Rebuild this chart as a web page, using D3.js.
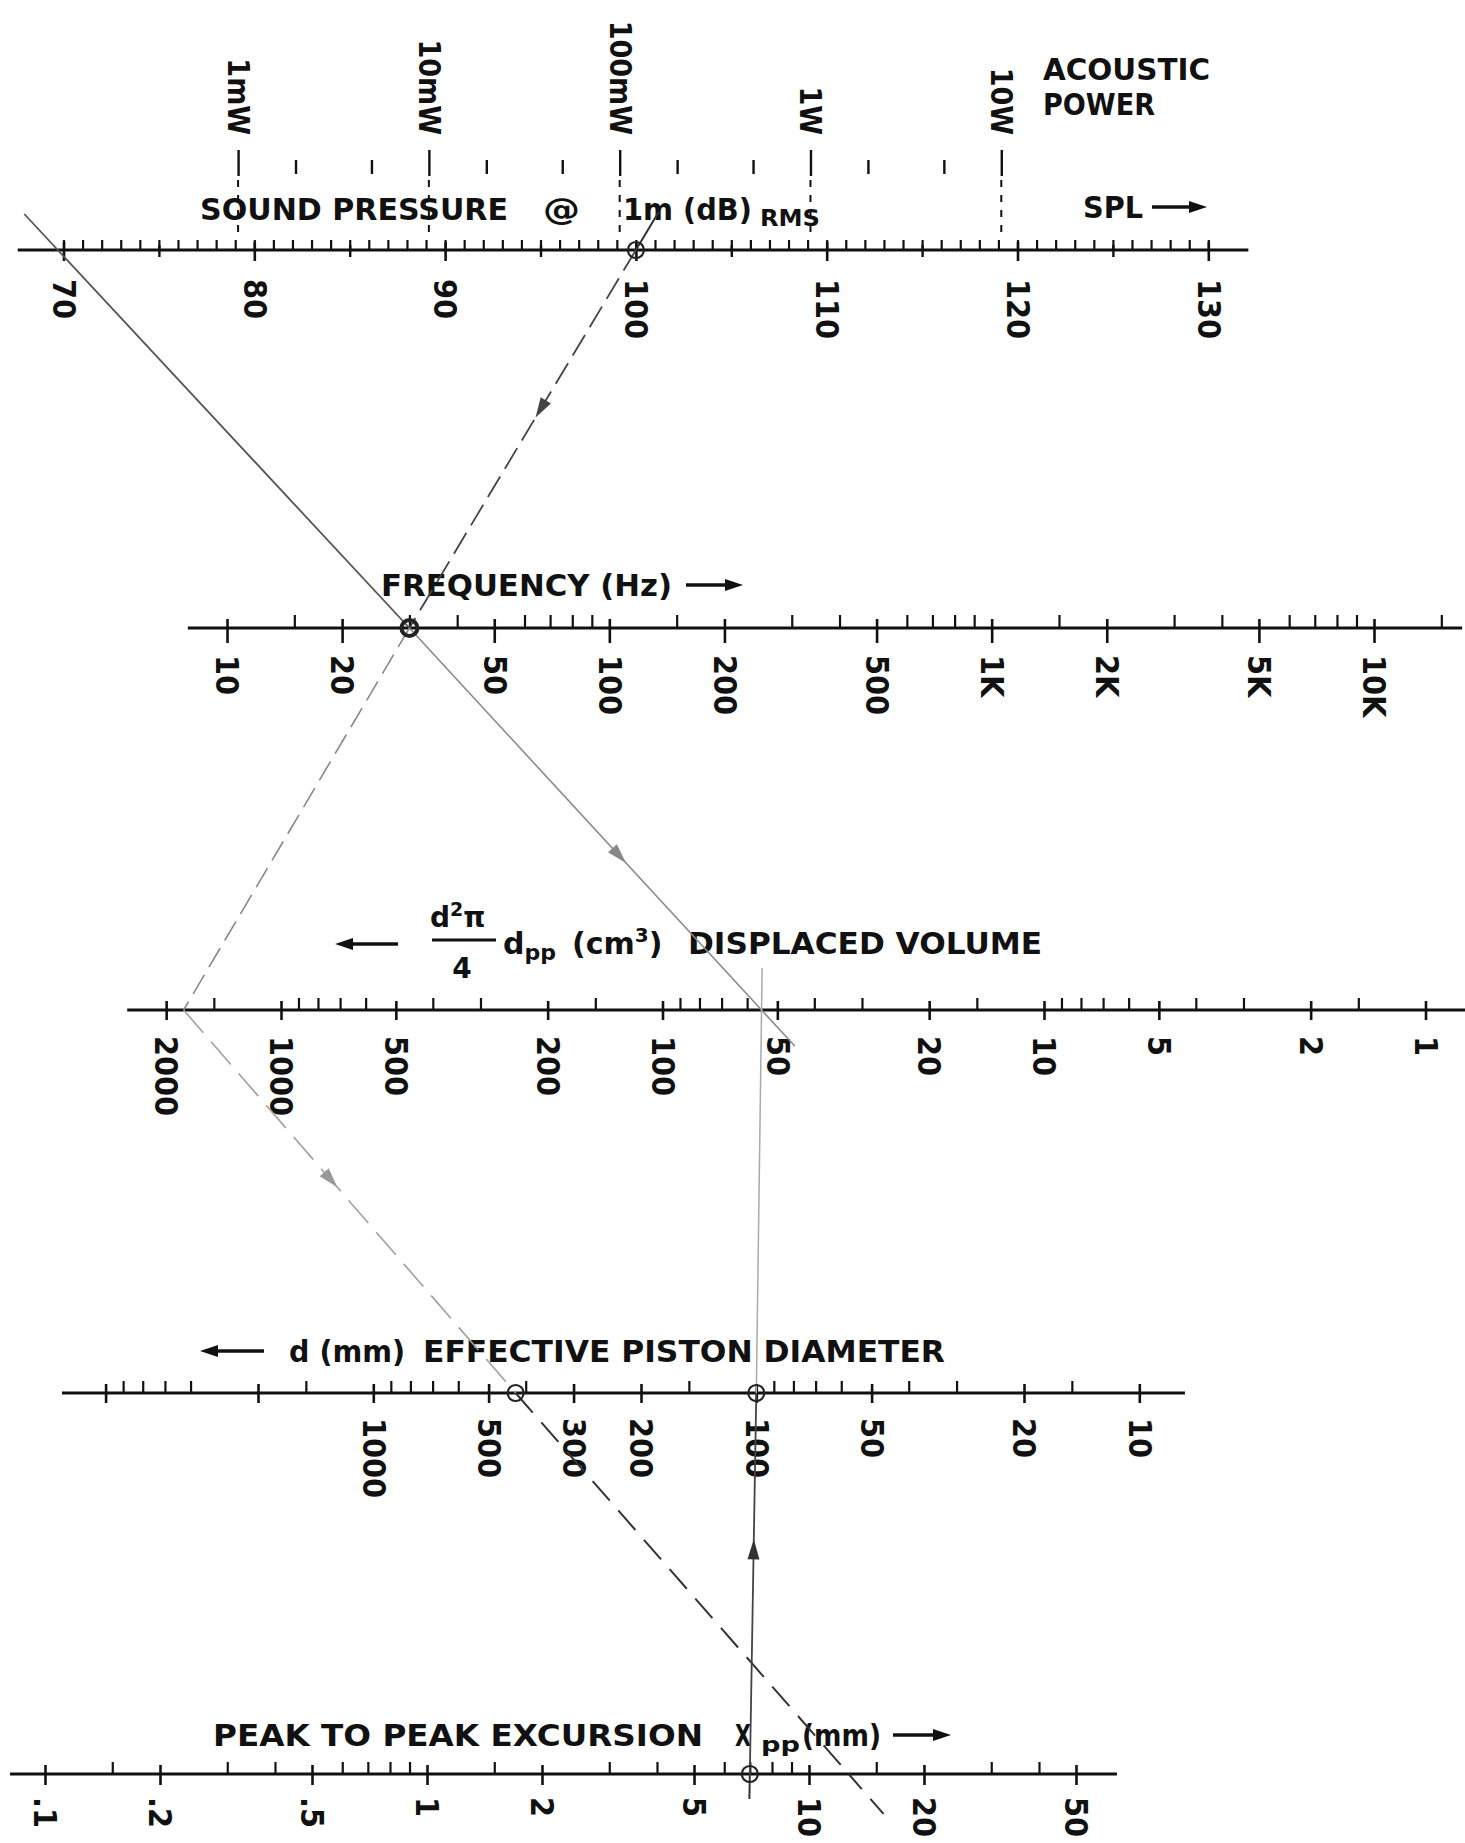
<!DOCTYPE html>
<html>
<head>
<meta charset="utf-8">
<script src="https://cdn.jsdelivr.net/npm/d3@7"></script>
<style>
body{margin:0;background:#fff}
text{font-family:"DejaVu Sans",sans-serif;font-weight:bold;fill:#111}
</style>
</head>
<body>
<svg></svg>
<script>
var screen = {width:1465,height:1843}

// sound pressure @ 1m, dB
var splMajor = [70,80,90,100,110,120,130]
var splLabels = ["70","80","90","100","110","120","130"]
var splMedium = [75,85,95,105,115,125]
var splMinor = d3.range(70,131)

// acoustic power (W), sits on the SPL scale
var powerMajor = [0.001,0.01,0.1,1,10]
var powerLabels = ["1mW","10mW","100mW","1W","10W"]
var powerMinor = [0.002,0.005,0.02,0.05,0.2,0.5,2,5]
var splAt1W = 109.15

// frequency (Hz)
var freqMajor = [10,20,50,100,200,500,1000,2000,5000,10000]
var freqLabels = ["10","20","50","100","200","500","1K","2K","5K","10K"]
var freqMinor = [15,30,40,60,70,80,90,150,300,400,600,700,800,900,1500,3000,4000,6000,7000,8000,9000,15000]

// displaced volume (cm3)
var volMajor = [2000,1000,500,200,100,50,20,10,5,2,1]
var volLabels = ["2000","1000","500","200","100","50","20","10","5","2","1"]
var volMinor = [1500,900,800,700,600,400,300,150,90,80,70,60,40,30,15,9,8,7,6,4,3,1.5]

// effective piston diameter (mm)
var diamMajor = [5000,2000,1000,500,300,200,100,50,20,10]
var diamLabels = ["","","1000","500","300","200","100","50","20","10"]
var diamMinor = [4500,4000,3500,3000,1500,900,800,700,600,400,150,90,80,70,60,40,30,15]

// peak to peak excursion (mm)
var excMajor = [0.1,0.2,0.5,1,2,5,10,20,50]
var excLabels = [".1",".2",".5","1","2","5","10","20","50"]
var excMinor = [0.15,0.3,0.4,0.6,0.7,0.8,0.9,1.5,3,4,6,7,8,9,15,30,40]

// worked examples drawn across the chart
var lineAAxes = ["spl","freq","vol"]
var lineAValues = [69.7,30,55]
var lineBAxes = ["spl","freq","vol","diam","exc"]
var lineBValues = [100,30,1800,425,12.7]
var lineCAxes = ["exc","diam","vol"]
var lineCValues = [7,100,55]
var markerAxes = ["spl","freq","diam","diam","exc"]
var markerValues = [100,30,425,100,7]

var svg = d3.select("svg")
    .attr("width",screen.width)
    .attr("height",screen.height)

var splScale = d3.scaleLinear().domain([70,130]).range([63.5,1208.3])
var powerScale = d3.scaleLog().domain([0.001,10])
    .range([splScale(splAt1W-30),splScale(splAt1W+10)])
var freqScale = d3.scaleLog().domain([10,10000]).range([227,1374])
var volScale = d3.scaleLog().domain([1000,1]).range([281,1425.5])
var diamScale = d3.scaleLog().domain([1000,10]).range([373.3,1139.3])
var excScale = d3.scaleLog().domain([0.1,10]).range([45,809])

var axisY = {spl:250,freq:628,vol:1010,diam:1393,exc:1774}
var scales = {spl:splScale,freq:freqScale,vol:volScale,diam:diamScale,exc:excScale}

//one nomograph scale: long line, small ticks above, crossing ticks + rotated labels
var drawScale = function(id,scale,ext,majors,labels,minors,opt)
{
    var g = svg.append("g").attr("id",id)
        .attr("transform","translate(0,"+axisY[id]+")")

    g.append("line")
        .attr("x1",scale(ext[0])).attr("x2",scale(ext[1]))
        .attr("stroke","#111").attr("stroke-width",3)

    var minorG = g.append("g")
        .call(d3.axisTop(scale).tickValues(minors).tickSize(opt.minor).tickFormat(""))
    minorG.select(".domain").remove()
    minorG.selectAll(".tick line").attr("stroke","#111").attr("stroke-width",2.2)

    if (opt.medium)
    {
        var medG = g.append("g")
            .call(d3.axisBottom(scale).tickValues(opt.medium).tickSize(7).tickFormat(""))
        medG.select(".domain").remove()
        medG.selectAll(".tick line").attr("y1",-5).attr("stroke","#111").attr("stroke-width",2.4)
    }

    var majorG = g.append("g")
        .call(d3.axisBottom(scale).tickValues(majors).tickSize(opt.down)
            .tickFormat(function(d){ return labels[majors.indexOf(d)] }))
    majorG.select(".domain").remove()
    majorG.attr("font-size",32).attr("font-family",null)
    majorG.selectAll(".tick line").attr("y1",-opt.up).attr("stroke","#111").attr("stroke-width",2.6)
    majorG.selectAll(".tick text")
        .attr("y",0).attr("dy","0.35em")
        .attr("text-anchor","start")
        .attr("transform","translate(0,"+opt.gap+") rotate(90) scale(0.9,1)")
}

drawScale("spl",splScale,[67.6,132.1],splMajor,splLabels,splMinor,{minor:10,up:8,down:11,gap:29,medium:splMedium})
drawScale("freq",freqScale,[7.9,17000],freqMajor,freqLabels,freqMinor,{minor:13,up:9,down:15,gap:27})
drawScale("vol",volScale,[2530,0.78],volMajor,volLabels,volMinor,{minor:12,up:9,down:10,gap:26})
drawScale("diam",diamScale,[6500,7.6],diamMajor,diamLabels,diamMinor,{minor:12,up:9,down:10,gap:25})
drawScale("exc",excScale,[0.081,64],excMajor,excLabels,excMinor,{minor:12,up:9,down:11,gap:23})

//acoustic power ticks above the SPL line
var powG = svg.append("g").attr("id","power").attr("transform","translate(0,176)")
var powMinorG = powG.append("g")
    .call(d3.axisTop(powerScale).tickValues(powerMinor).tickSize(14).tickFormat(""))
powMinorG.select(".domain").remove()
powMinorG.attr("transform","translate(0,-2)")
powMinorG.selectAll(".tick line").attr("stroke","#111").attr("stroke-width",2.4)
var powMajorG = powG.append("g")
    .call(d3.axisTop(powerScale).tickValues(powerMajor).tickSize(26)
        .tickFormat(function(d){ return powerLabels[powerMajor.indexOf(d)] }))
powMajorG.select(".domain").remove()
powMajorG.attr("font-size",30).attr("font-family",null)
powMajorG.selectAll(".tick line").attr("stroke","#111").attr("stroke-width",2.4)
powMajorG.selectAll(".tick text")
    .attr("y",0).attr("dy","0.35em")
    .attr("text-anchor","end")
    .attr("transform","translate(0,-41) rotate(90) scale(0.9,1)")
powG.selectAll(".dash")
    .data(powerMajor)
    .enter()
    .append("line")
    .attr("class","dash")
    .attr("x1",function(d){ return powerScale(d) })
    .attr("x2",function(d){ return powerScale(d) })
    .attr("y1",4).attr("y2",56)
    .attr("stroke","#111").attr("stroke-width",2)
    .attr("stroke-dasharray","7,8")

//---------- titles ----------
var title = function(x,y,str,len,size)
{
    return svg.append("text")
        .attr("x",x).attr("y",y)
        .attr("font-size",size||30)
        .attr("textLength",len)
        .attr("lengthAdjust","spacingAndGlyphs")
        .text(str)
}
var arrow = function(x1,x2,y)
{
    var dir = x2>x1 ? 1 : -1
    svg.append("line")
        .attr("x1",x1).attr("x2",x2-dir*14).attr("y1",y).attr("y2",y)
        .attr("stroke","#111").attr("stroke-width",3.5)
    svg.append("path")
        .attr("d","M"+x2+","+y+"L"+(x2-dir*18)+","+(y-6)+"L"+(x2-dir*18)+","+(y+6)+"Z")
        .attr("fill","#111")
}

title(200,220,"SOUND PRESSURE",308)
title(543,220,"@",37)
title(623,220,"1m (dB)",129)
title(760,226,"RMS",60,23)
title(1043,80,"ACOUSTIC",167)
title(1043,115,"POWER",112)
title(1083,218,"SPL",60)
arrow(1152,1207,207)

title(381,596,"FREQUENCY (Hz)",291)
arrow(686,743,585)

arrow(398,335,944)
var num = svg.append("text").attr("x",430).attr("y",927).attr("font-size",28)
num.append("tspan").text("d")
num.append("tspan").attr("dy",-11).attr("font-size",19).text("2")
num.append("tspan").attr("dy",11).text("π")
svg.append("line").attr("x1",432).attr("x2",496).attr("y1",940).attr("y2",940)
    .attr("stroke","#111").attr("stroke-width",3)
svg.append("text").attr("x",462).attr("y",978).attr("font-size",28)
    .attr("text-anchor","middle").text("4")
var dpp = svg.append("text").attr("x",503).attr("y",954).attr("font-size",30)
dpp.append("tspan").text("d")
dpp.append("tspan").attr("dy",6).attr("font-size",22).text("pp")
var cm = svg.append("text").attr("x",572).attr("y",954).attr("font-size",30)
cm.append("tspan").text("(cm")
cm.append("tspan").attr("dy",-12).attr("font-size",20).text("3")
cm.append("tspan").attr("dy",12).text(")")
title(688,954,"DISPLACED VOLUME",354)

arrow(264,200,1351)
title(289,1362,"d (mm)",116)
title(423,1362,"EFFECTIVE PISTON DIAMETER",522)

title(213,1746,"PEAK TO PEAK EXCURSION",490)
title(735,1746,"X",16)
title(761,1752,"pp",39,22)
title(802,1746,"(mm)",79)
arrow(893,951,1735)

//---------- construction lines ----------
var pt = function(a,v){ return [scales[a](v),axisY[a]] }
var extendTo = function(p0,p1,y){ return [p0[0]+(p0[0]-p1[0])/(p0[1]-p1[1])*(y-p0[1]),y] }
var seg = function(p,q,col,w,dash)
{
    svg.append("line")
        .attr("x1",p[0]).attr("y1",p[1]).attr("x2",q[0]).attr("y2",q[1])
        .attr("stroke",col).attr("stroke-width",w)
        .attr("stroke-dasharray",dash||null)
}
var head = function(p,q,t,col)
{
    var x = p[0]+(q[0]-p[0])*t, y = p[1]+(q[1]-p[1])*t
    var ang = Math.atan2(q[1]-p[1],q[0]-p[0])*180/Math.PI
    svg.append("path")
        .attr("d","M0,0L-20,-6L-20,6Z")
        .attr("transform","translate("+x+","+y+") rotate("+ang+")")
        .attr("fill",col)
}

var pa = lineAAxes.map(function(a,i){ return pt(a,lineAValues[i]) })
seg(extendTo(pa[0],pa[1],214),pa[0],"#555",1.8)
seg(pa[0],pa[1],"#555",1.8)
seg(pa[1],pa[2],"#8a8a8a",1.6)
seg(pa[2],extendTo(pa[2],pa[1],1046),"#8a8a8a",1.6)
head(pa[1],pa[2],0.615,"#888")

var pb = lineBAxes.map(function(a,i){ return pt(a,lineBValues[i]) })
seg(extendTo(pb[0],pb[1],212),pb[0],"#333",2)
seg(pb[0],pb[1],"#444",1.8,"24,9")
seg(pb[1],pb[2],"#888",1.6,"22,9")
seg(pb[2],pb[3],"#a0a0a0",1.6,"30,12")
seg(pb[3],pb[4],"#333",2,"26,13")
seg(pb[4],extendTo(pb[4],pb[3],1815),"#333",2,"20,13")
head(pb[0],pb[1],0.443,"#444")
head(pb[2],pb[3],0.463,"#999")

var pc = lineCAxes.map(function(a,i){ return pt(a,lineCValues[i]) })
seg(extendTo(pc[0],pc[1],1799),pc[0],"#333",2)
seg(pc[0],pc[1],"#444",1.8)
seg(pc[1],pc[2],"#aaa",1.5)
seg(pc[2],extendTo(pc[2],pc[1],968),"#aaa",1.5)
head(pc[0],pc[1],0.616,"#333")

svg.selectAll(".marker")
    .data(markerAxes)
    .enter()
    .append("circle")
    .attr("class","marker")
    .attr("cx",function(a,i){ return scales[a](markerValues[i]) })
    .attr("cy",function(a){ return axisY[a] })
    .attr("r",8)
    .attr("fill","none")
    .attr("stroke","#222")
    .attr("stroke-width",function(a){ return a=="freq" ? 4 : 2.2 })
</script>
</body>
</html>
